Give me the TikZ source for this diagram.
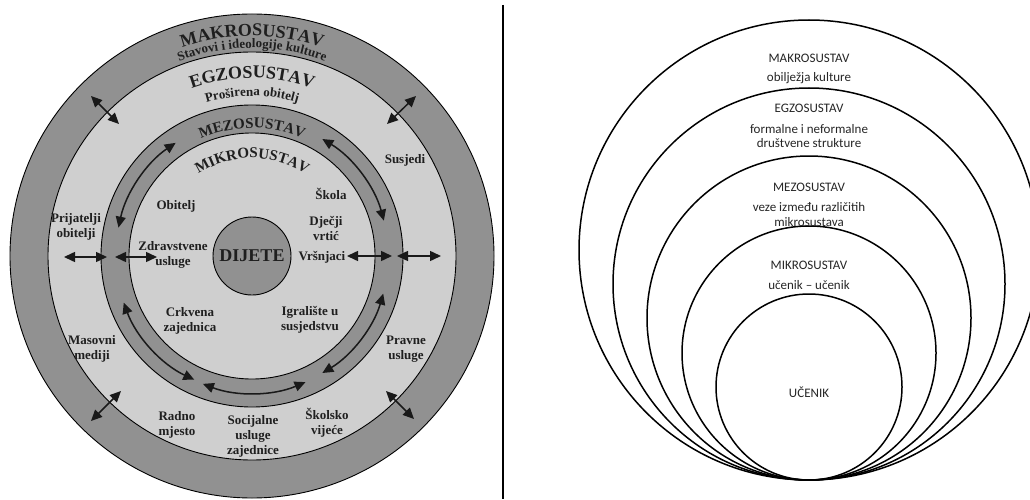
\documentclass[tikz,border=0pt]{standalone}
\usepackage{fontspec}
\setmainfont{Liberation Serif}
\newfontfamily\calib{Carlito}
\newfontfamily\spacea[LetterSpace=13]{Liberation Serif}
\newfontfamily\spaceb[LetterSpace=25]{Liberation Serif}
\usetikzlibrary{arrows.meta,decorations.text,calc}
\definecolor{darkring}{gray}{0.57}
\definecolor{lightring}{gray}{0.81}
\definecolor{txt}{gray}{0.12}
\tikzset{
  ringline/.style={draw=black, line width=0.9pt},
  lbl/.style={font=\bfseries\fontsize{13}{15}\selectfont, text=txt, align=center, inner sep=0pt},
  rlbl/.style={font=\calib\fontsize{13}{14.5}\selectfont, text=black!85, align=center, inner sep=0pt},
  dbl/.style={<->, >={Triangle[length=11pt,width=10pt]}, line width=1.5pt, draw=black!90},
  rcircle/.style={draw=black, line width=1.5pt},
}
\begin{document}
\begin{tikzpicture}[x=1pt,y=1pt]
\useasboundingbox (0,0) rectangle (1030,499);
\fill[white] (0,0) rectangle (1030,499);
\begin{scope}
\clip (0,0) rectangle (1030,499);
% ---------------- left diagram ----------------
\coordinate (C) at (252,243);
\fill[darkring] (C) circle[radius=242];
\draw[ringline] (C) circle[radius=242];
\fill[lightring] (C) circle[radius=204];
\draw[ringline] (C) circle[radius=204];
\fill[darkring] (C) circle[radius=151];
\draw[ringline] (C) circle[radius=151];
\fill[lightring] (C) circle[radius=123];
\draw[ringline] (C) circle[radius=123];
\node[circle, draw=black, line width=0.9pt, fill=darkring, minimum size=78pt, inner sep=0pt,
      font=\bfseries\fontsize{18}{18}\selectfont, text=txt] (dijete) at (C) {DIJETE};

% curved titles
\path[decorate, decoration={text along path, text align=center,
  text={|\bfseries\fontsize{18}{18}\selectfont\color{txt}|MAKROSUSTAV}}]
  ($(C)+(150:220)$) arc[start angle=150, end angle=30, radius=220];
\path[decorate, decoration={text along path, text align=center,
  text={|\bfseries\fontsize{13}{13}\selectfont\color{txt}|Stavovi i ideologije kulture}}]
  ($(C)+(150:208)$) arc[start angle=150, end angle=30, radius=208];
\path[decorate, decoration={text along path, text align=center,
  text={|\bfseries\fontsize{18}{18}\selectfont\color{txt}|EGZOSUSTAV}}]
  ($(C)+(150:178)$) arc[start angle=150, end angle=30, radius=178];
\path[decorate, decoration={text along path, text align=center,
  text={|\bfseries\fontsize{13}{13}\selectfont\color{txt}|Proširena obitelj}}]
  ($(C)+(150:160)$) arc[start angle=150, end angle=30, radius=160];
\path[decorate, decoration={text along path, text align=center,
  text={|\spaceb\bfseries\fontsize{15}{15}\selectfont\color{txt}|MEZOSUSTAV}}]
  ($(C)+(160:128)$) arc[start angle=160, end angle=20, radius=128];
\path[decorate, decoration={text along path, text align=center,
  text={|\spacea\bfseries\fontsize{15}{15}\selectfont\color{txt}|MIKROSUSTAV}}]
  ($(C)+(170:98)$) arc[start angle=170, end angle=10, radius=98];

% labels
\node[lbl] (susjedi) at (405,339) {Susjedi};
\node[lbl] (skola) at (331,305) {Škola};
\node[lbl] (vrtic) at (326,271) {Dječji\\vrtić};
\node[lbl] (vrsnjaci) at (322,242) {Vršnjaci};
\node[lbl] (igraliste) at (310,179.5) {Igralište u\\susjedstvu};
\node[lbl] (pravne) at (406,150) {Pravne\\usluge};
\node[lbl] (obitelj) at (176,293) {Obitelj};
\node[lbl] (prijatelji) at (76,272.5) {Prijatelji\\obitelji};
\node[lbl] (zdravstvene) at (173,244.5) {Zdravstvene\\usluge};
\node[lbl] (crkvena) at (190,178.5) {Crkvena\\zajednica};
\node[lbl] (masovni) at (92,150) {Masovni\\mediji};
\node[lbl] (radno) at (177,74.5) {Radno\\mjesto};
\node[lbl] (socijalne) at (253,62.5) {Socijalne\\usluge\\zajednice};
\node[lbl] (skolsko) at (327,76.5) {Školsko\\vijeće};

% straight arrows
\coordinate (a1s) at (91,403);  \coordinate (a1e) at (119,375);
\coordinate (a2s) at (416,403); \coordinate (a2e) at (387,375);
\coordinate (a3s) at (91,78);   \coordinate (a3e) at (121,108);
\coordinate (a4s) at (386,108); \coordinate (a4e) at (414,80);
\coordinate (a5s) at (64,242);  \coordinate (a5e) at (107,242);
\coordinate (a6s) at (115,242); \coordinate (a6e) at (157,242);
\coordinate (a7s) at (347,243); \coordinate (a7e) at (392,243);
\coordinate (a8s) at (397,243); \coordinate (a8e) at (441,243);
\foreach \n in {1,...,8} { \draw[dbl] (a\n s) -- (a\n e); }

% curved arrows in the mezo ring
\coordinate (b1) at ($(C)+(124:136.5)$);
\coordinate (b2) at ($(C)+(59:136.5)$);
\coordinate (b3) at ($(C)+(200:136.5)$);
\coordinate (b4) at ($(C)+(-16:136.5)$);
\coordinate (b5) at ($(C)+(249:137)$);
\draw[dbl] (b1) arc[start angle=124, end angle=168, radius=136.5];
\draw[dbl] (b2) arc[start angle=59, end angle=15, radius=136.5];
\draw[dbl] (b3) arc[start angle=200, end angle=245, radius=136.5];
\draw[dbl] (b4) arc[start angle=-16, end angle=-59, radius=136.5];
\draw[dbl] (b5) arc[start angle=249, end angle=293, radius=137];

% separator
\coordinate (s1) at (503,494); \coordinate (s2) at (503,0);
\draw[line width=1.2pt] (s1) -- (s2);

% ---------------- right diagram ----------------
\coordinate (B) at (809,19);
\draw[rcircle] (809,249) circle[radius=230];
\draw[rcircle] (809,215) circle[radius=196];
\draw[rcircle] (809,181) circle[radius=162];
\draw[rcircle] (809,146) circle[radius=127];
\draw[rcircle] (809,112) circle[radius=93];

\node[rlbl] (makro) at (809,441) {MAKROSUSTAV};
\node[rlbl] (makrot) at (809,421) {obilježja kulture};
\node[rlbl] (egzo) at (809,391) {EGZOSUSTAV};
\node[rlbl] (egzot) at (809,363) {formalne i neformalne\\društvene strukture};
\node[rlbl] (mezo) at (809,312) {MEZOSUSTAV};
\node[rlbl] (mezot) at (809,284.5) {veze između različitih\\mikrosustava};
\node[rlbl] (mikro) at (809,234) {MIKROSUSTAV};
\node[rlbl] (mikrot) at (809,214) {učenik – učenik};
\node[rlbl] (ucenik) at (809,107) {UČENIK};
\end{scope}
\end{tikzpicture}
\end{document}
